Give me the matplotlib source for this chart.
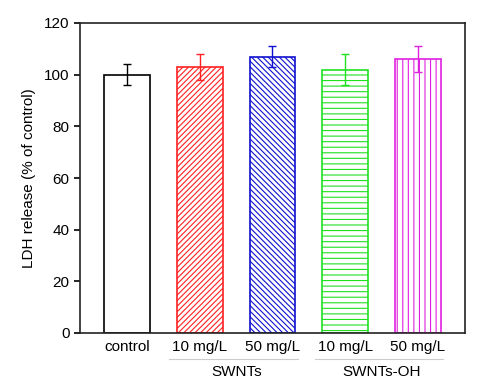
import matplotlib
matplotlib.use("Agg")
import matplotlib.pyplot as plt

categories = ["control", "10 mg/L", "50 mg/L", "10 mg/L", "50 mg/L"]
values = [100, 103, 107, 102, 106]
errors = [4, 5, 4, 6, 5]
colors = ["black", "#ff2020", "#1010d0", "#20e020", "#e020e0"]
hatches = ["", "//////", "\\\\\\\\\\\\", "---", "|||"]
groups = ["SWNTs", "SWNTs-OH"]

plt.rcParams['font.family'] = ['Liberation Sans', 'DejaVu Sans']
plt.rcParams['hatch.linewidth'] = 0.8

fig = plt.figure(figsize=(5.04, 3.9), dpi=100)
ax = fig.add_axes([80/504, 1 - 333/390, (465-80)/504, (333-23)/390])

x = list(range(len(categories)))
for i in x:
    ax.bar(i, values[i], width=0.63, facecolor="white", edgecolor=colors[i],
           hatch=hatches[i], linewidth=1.2, zorder=2)
    ax.errorbar(i, values[i], yerr=errors[i], color=colors[i], capsize=3,
                elinewidth=1, capthick=1, zorder=3)

ax.set_xlim(-0.65, 4.65)
ax.set_ylim(0, 120)
ax.set_yticks(range(0, 121, 20))
ax.set_xticks(x)
ax.set_xticklabels(categories, fontsize=11)
ax.tick_params(axis='x', length=0, pad=5)
ax.tick_params(axis='y', labelsize=11, direction='out', length=4, width=1.2)
for s in ax.spines.values():
    s.set_linewidth(1.2)
    s.set_color("#222222")
ax.set_ylabel("LDH release (% of control)", fontsize=11)
ax.yaxis.set_label_coords(-0.114, 0.5)

# group lines and labels
trans = ax.get_xaxis_transform()
for (a, b), g in zip([(1, 2), (3, 4)], groups):
    ax.plot([a - 0.42, b + 0.35], [-0.085, -0.085], transform=trans,
            color="#cccccc", lw=0.8, clip_on=False)
    ax.text((a + b) / 2, -0.102, g, transform=trans, ha='center', va='top', fontsize=11)

fig.savefig("out.png", dpi=100)
